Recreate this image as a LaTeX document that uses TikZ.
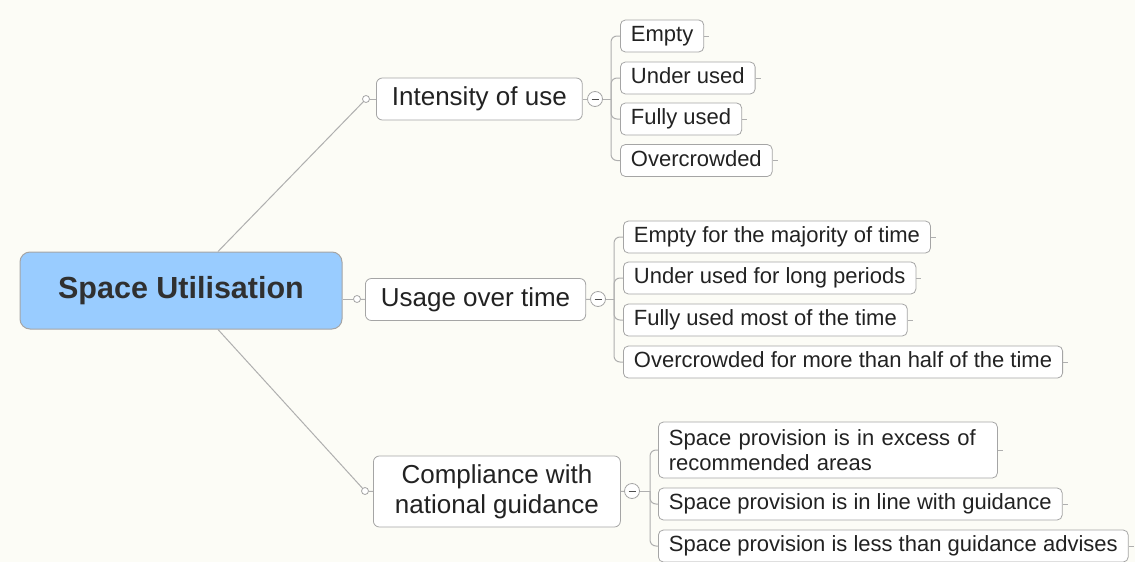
\documentclass[tikz,border=0pt]{standalone}
\usepackage{fontspec}
\setmainfont{Liberation Sans}
\definecolor{bg}{RGB}{252,252,246}
\definecolor{rootfill}{RGB}{153,204,255}
\definecolor{boxline}{RGB}{165,165,165}
\definecolor{conn}{RGB}{175,175,175}
\definecolor{txt}{RGB}{34,34,34}
\tikzset{
 rootbox/.style={draw=boxline, fill=rootfill, rounded corners=10pt, minimum width=322pt, minimum height=77pt, font=\fontsize{30.5}{34}\selectfont\bfseries, text=txt!85!gray, line width=1pt},
 mainbox/.style={draw=boxline, fill=white, rounded corners=6pt, minimum height=42pt, inner xsep=15.5pt, font=\fontsize{26}{30}\selectfont, text=txt, line width=0.8pt, anchor=west, align=center, text height=19pt, text depth=5.5pt},
 leafbox/.style={draw=boxline, fill=white, rounded corners=5pt, minimum height=32pt, inner xsep=10.5pt, font=\fontsize{22}{25}\selectfont, text=txt, line width=0.8pt, anchor=west, align=left, text height=16pt, text depth=4.5pt},
 knob/.style={circle, draw=boxline, fill=white, minimum size=7pt, inner sep=0pt, line width=0.8pt},
 toggle/.style={circle, draw=boxline, fill=white, minimum size=15pt, inner sep=0pt, line width=0.8pt},
 link/.style={draw=conn, line width=1pt},
 fork/.style={draw=conn, line width=1pt, rounded corners=6pt},
}
\newcommand{\minusmark}[1]{\draw[line width=1pt, txt!80] ([xshift=-3.5pt]#1.center) -- ([xshift=3.5pt]#1.center);}
\begin{document}
\begin{tikzpicture}[x=1pt,y=-1pt]
\fill[bg] (0,0) rectangle (1135,562);
\useasboundingbox (0,0) rectangle (1135,562);

% root
\node[rootbox] (root) at (181,290.5) {Space Utilisation};

% main branches
\node[mainbox] (int) at (376,99) {Intensity of use};
\node[mainbox] (use) at (365,299.5) {Usage over time};
\node[mainbox, minimum height=71pt, minimum width=247pt, text height=, text depth=] (com) at (373,491.5) {Compliance with\\national guidance};

\node[knob] (ik) at (366,99) {};
\node[knob] (uk) at (357,299) {};
\node[knob] (ck) at (365,491) {};

\draw[link] ([xshift=37pt]root.north) -- (ik);
\draw[link] (root.east |- uk) -- (uk);
\draw[link] ([xshift=37pt]root.south) -- (ck);
\draw[link] (ik) -- (int.west);
\draw[link] (uk) -- (use.west);
\draw[link] (ck) -- (com.west);

% toggles
\node[toggle] (it) at (595,99) {};
\node[toggle] (ut) at (598,299) {};
\node[toggle] (ct) at (632,491) {};
\draw[link] (int.east) -- (it);
\draw[link] (use.east) -- (ut);
\draw[link] (com.east) -- (ct);

% leaves: intensity
\node[leafbox] (i1) at (620,36) {Empty};
\node[leafbox] (i2) at (620,78) {Under used};
\node[leafbox] (i3) at (620,119) {Fully used};
\node[leafbox] (i4) at (620,160.5) {Overcrowded};
\coordinate (ib) at (611,99);
\draw[link] (it) -- (ib);
\foreach \n in {i1,i2,i3,i4} {
  \draw[fork] (ib) -- (ib |- \n.west) -- (\n.west);
  \draw[link] (\n.east) -- ++(5,0);
}

% leaves: usage
\node[leafbox] (u1) at (623,237) {Empty for the majority of time};
\node[leafbox] (u2) at (623,278) {Under used for long periods};
\node[leafbox] (u3) at (623,320) {Fully used most of the time};
\node[leafbox] (u4) at (623,362) {Overcrowded for more than half of the time};
\coordinate (ub) at (614,299);
\draw[link] (ut) -- (ub);
\foreach \n in {u1,u2,u3,u4} {
  \draw[fork] (ub) -- (ub |- \n.west) -- (\n.west);
  \draw[link] (\n.east) -- ++(5,0);
}

% leaves: compliance
\node[leafbox, minimum height=56pt, text width=318pt, text height=, text depth=] (c1) at (658,450) {Space provision is in excess of\\recommended areas};
\node[leafbox] (c2) at (658,504) {Space provision is in line with guidance};
\node[leafbox] (c3) at (658,546) {Space provision is less than guidance advises};
\coordinate (cb) at (650,491);
\draw[link] (ct) -- (cb);
\foreach \n in {c1,c2,c3} {
  \draw[fork] (cb) -- (cb |- \n.west) -- (\n.west);
  \draw[link] (\n.east) -- ++(5,0);
}

\minusmark{it}
\minusmark{ut}
\minusmark{ct}
\end{tikzpicture}
\end{document}
